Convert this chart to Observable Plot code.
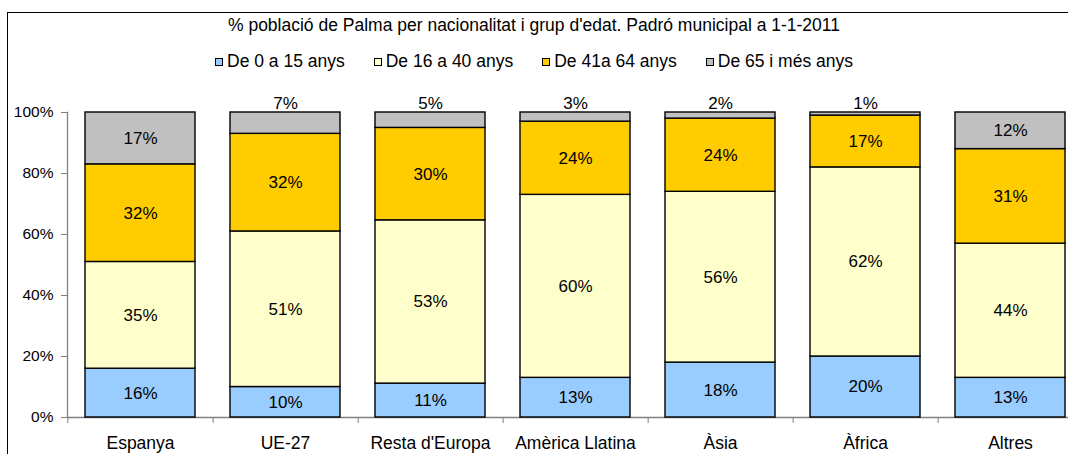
<!DOCTYPE html>
<html><head><meta charset="utf-8">
<script src="https://cdn.jsdelivr.net/npm/d3@7"></script>
<script src="https://cdn.jsdelivr.net/npm/@observablehq/plot@0.6"></script>
<style>
body{margin:0;width:1068px;height:454px;overflow:hidden;position:relative;background:#fff;font-family:"Liberation Sans",Arial,sans-serif;color:#000}
#border{position:absolute;left:7px;top:12px;width:1200px;height:600px;border:1px solid #000;box-sizing:border-box}
#title{position:absolute;left:0;top:16.5px;width:1068px;text-align:center;font-size:17.5px;line-height:17px;white-space:nowrap}
#legend{position:absolute;left:0;top:53px;width:1068px;display:flex;justify-content:center;font-size:17.5px;line-height:17px;white-space:nowrap}
.item{display:flex;align-items:center;margin:0 14.5px}
.sw{width:8px;height:8px;border:1.5px solid #000;box-sizing:border-box;margin-right:4px;margin-top:1px}
#chart{position:absolute;left:0;top:90px}
</style></head>
<body>
<div id="border"></div>
<div id="title"></div>
<div id="legend"></div>
<div id="chart"></div>
<script>
const titleText = "% població de Palma per nacionalitat i grup d'edat. Padró municipal a 1-1-2011";
const categories = ["Espanya","UE-27","Resta d'Europa","Amèrica Llatina","Àsia","Àfrica","Altres"];
const groups = ["De 0 a 15 anys","De 16 a 40 anys","De 41a 64 anys","De 65 i més anys"];
const colors = ["#99CCFF","#FFFFCC","#FFCC00","#C0C0C0"];
const age0to15  = [16,10,11,13,18,20,13];
const age16to40 = [35,51,53,60,56,62,44];
const age41to64 = [32,32,30,24,24,17,31];
const age65plus = [17, 7, 5, 3, 2, 1,12];
const yTicks = [0,0.2,0.4,0.6,0.8,1];

const series = [age0to15, age16to40, age41to64, age65plus];
const data = groups.flatMap((g, j) => categories.map((c, i) => ({cat: c, group: g, value: series[j][i]})));

document.getElementById("title").textContent = titleText;
const legend = document.getElementById("legend");
groups.forEach((g, j) => {
  const item = document.createElement("div"); item.className = "item";
  const sw = document.createElement("div"); sw.className = "sw"; sw.style.background = colors[j];
  const t = document.createElement("span"); t.textContent = g;
  item.append(sw, t); legend.append(item);
});

const W = 1090, H = 364, ML = 67, MR = 6, MT = 22, MB = 37;
const step = (W - ML - MR) / categories.length;

const chart = Plot.plot({
  width: W, height: H,
  marginLeft: ML, marginRight: MR, marginTop: MT, marginBottom: MB,
  style: {background: "transparent", maxWidth: "none", overflow: "visible",
          fontFamily: "Liberation Sans, Arial, sans-serif", fontSize: "17px", color: "#000"},
  x: {domain: categories, paddingInner: 0.24, paddingOuter: 0.12},
  y: {domain: [0, 1]},
  color: {domain: groups, range: colors},
  marks: [
    Plot.ruleY([0], {stroke: "#808080", strokeWidth: 1.3}),
    Plot.frame({anchor: "left", stroke: "#808080", strokeWidth: 1.3}),
    Plot.axisY({ticks: yTicks, tickFormat: d3.format(".0%"), tickSize: 6, tickPadding: 8,
                stroke: "#808080", fontSize: 15.5, label: null}),
    Plot.axisX({tickSize: 0, tickPadding: 19, fontSize: 17.5, label: null}),
    Plot.axisX({tickSize: 6, dx: step / 2, tickFormat: () => "", stroke: "#808080", label: null}),
    Plot.axisX({ticks: [categories[0]], tickSize: 6, dx: -step / 2, tickFormat: () => "", stroke: "#808080", label: null}),
    Plot.barY(data, Plot.stackY({x: "cat", y: "value", z: "group", fill: "group", offset: "normalize",
                                 stroke: "#000", strokeWidth: 1.4})),
    Plot.text(data, Plot.stackY({x: "cat", y: "value", z: "group", offset: "normalize",
                                 text: d => d.value >= 10 ? d.value + "%" : "", fontSize: 17, fill: "#000"})),
    Plot.text(data, {filter: d => d.group === groups[3] && d.value < 10, x: "cat", frameAnchor: "top",
                     lineAnchor: "middle", dy: -9, text: d => d.value + "%", fontSize: 17, fill: "#000"})
  ]
});
document.getElementById("chart").append(chart);
</script>
</body></html>
